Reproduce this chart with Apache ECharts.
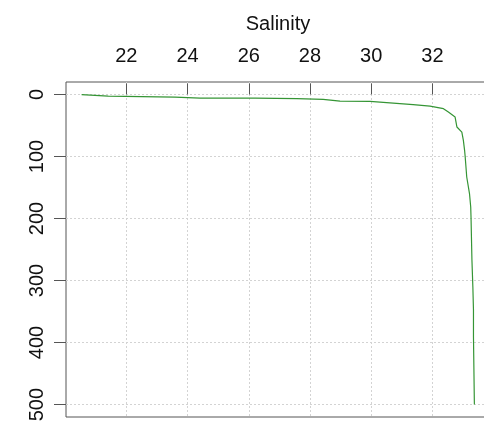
<!DOCTYPE html>
<html>
<head>
<meta charset="utf-8">
<title>Salinity profile</title>
<script src="https://cdn.jsdelivr.net/npm/echarts@6/dist/echarts.min.js"></script>
<style>
  html, body { margin: 0; padding: 0; background: #fff; }
  #chart { width: 484px; height: 422px; }
</style>
</head>
<body>
<div id="chart"></div>
<script>
// Salinity (PSU) measured down the cast, paired with depth (m)
const salinity = [20.54, 21.41, 21.41, 23.59, 24.41, 26.21, 26.21, 27.57, 27.57, 28.43, 28.43, 28.98,
  29.96, 31.37, 31.92, 32.36, 32.52, 32.74, 32.80, 32.96, 33.01, 33.05, 33.07, 33.12, 33.21,
  33.25, 33.26, 33.29, 33.32, 33.34, 33.34, 33.37, 33.37];
const depth = [0.5, 2.7, 4.3, 4.3, 6.0, 6.0, 6.9, 6.9, 8.0, 8.0, 9.7, 10.8,
  11.3, 16.6, 18.8, 23.0, 28.5, 36.5, 52.6, 60.7, 74.0, 90.1, 100.9, 133.1, 159.8,
  181.4, 197.5, 267.1, 310.1, 347.6, 390.6, 391.0, 500.0];

// Tick marks
const salinityTicks = [22, 24, 26, 28, 30, 32];
const depthTicks = [0, 100, 200, 300, 400, 500];

const profile = salinity.map((s, i) => [s, depth[i]]);

const FONT = 'Liberation Sans, Arial, sans-serif';
const AXIS_COLOR = '#555';

const chart = echarts.init(document.getElementById('chart'), null, { renderer: 'canvas' });
chart.setOption({
  animation: false,
  backgroundColor: '#fff',
  grid: {
    left: 66, top: 82, width: 424, height: 335,
    show: true, borderColor: AXIS_COLOR, borderWidth: 1, backgroundColor: 'transparent',
    containLabel: false,
    outerBoundsMode: 'none'
  },
  xAxis: {
    type: 'value',
    position: 'top',
    min: 20.03, max: 33.88,
    name: 'Salinity',
    nameLocation: 'middle',
    nameGap: 48,
    nameTextStyle: { fontFamily: FONT, fontSize: 20, color: '#111' },
    axisLine: { show: false },
    axisTick: { show: true, length: 11, lineStyle: { color: AXIS_COLOR, width: 1 }, customValues: salinityTicks },
    axisLabel: { fontFamily: FONT, fontSize: 20, color: '#111', margin: 16, customValues: salinityTicks },
    splitLine: { show: true, lineStyle: { color: '#d3d3d3', type: [2, 2], width: 1 } }
  },
  yAxis: {
    type: 'value',
    inverse: true,
    min: -20, max: 520,
    axisLine: { show: false },
    axisTick: { show: true, length: 12, lineStyle: { color: AXIS_COLOR, width: 1 }, customValues: depthTicks },
    axisLabel: { fontFamily: FONT, fontSize: 20, color: '#111', margin: 19, rotate: 90, customValues: depthTicks },
    splitLine: { show: true, lineStyle: { color: '#d3d3d3', type: [2, 2], width: 1 } }
  },
  series: [{
    type: 'line',
    data: profile,
    showSymbol: false,
    symbol: 'none',
    clip: true,
    lineStyle: { color: '#359535', width: 1.2 }
  }]
});
</script>
</body>
</html>
